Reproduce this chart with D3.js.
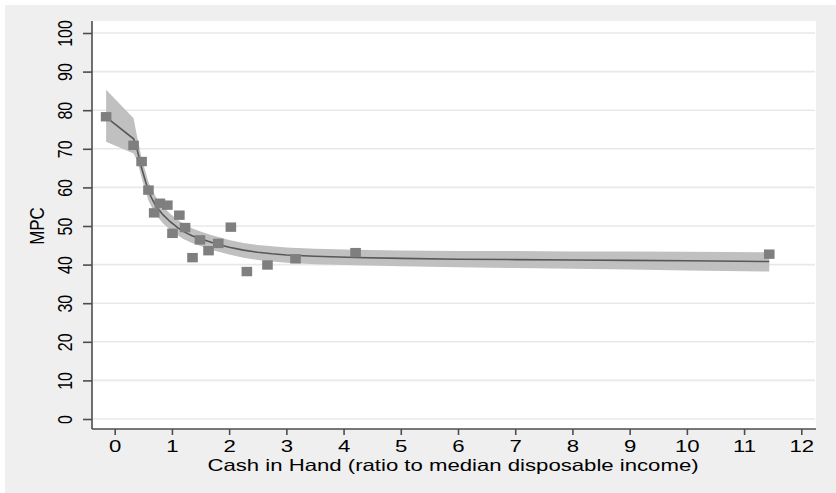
<!DOCTYPE html>
<html>
<head>
<meta charset="utf-8">
<script src="https://cdn.jsdelivr.net/npm/d3@7"></script>
<style>
  html, body { margin: 0; padding: 0; background: #ffffff; }
  svg { display: block; }
  text { font-family: "Liberation Sans", Arial, Helvetica, sans-serif; fill: #000; }
</style>
</head>
<body>
<svg id="chart" width="836" height="493"></svg>
<script>
// Observed household data: cash in hand vs. marginal propensity to consume
const cashRatio = [-0.15, 0.33, 0.47, 0.59, 0.69, 0.79, 0.92, 1.01, 1.13, 1.23,
                   1.36, 1.49, 1.64, 1.81, 2.03, 2.31, 2.67, 3.16, 4.21, 11.44];
const mpcValues = [78.3, 70.9, 66.7, 59.3, 53.4, 55.9, 55.4, 48.1, 52.8, 49.6,
                   41.8, 46.4, 43.6, 45.5, 49.7, 38.2, 39.9, 41.5, 43.1, 42.7];

// Fitted curve with its confidence band
const fitX  = [-0.15, 0.33, 0.38, 0.43, 0.47, 0.52, 0.59, 0.66, 0.73, 0.85, 0.97, 1.1, 1.2, 1.35, 1.5, 1.7,
               1.85, 2.0, 2.25, 2.5, 2.75, 3.0, 3.5, 4.2, 5, 6, 7, 8, 9, 10, 11.44];
const fitMid = [78.2, 72.6, 70.5, 67.5, 65.0, 62.5, 59.0, 56.8, 55.0, 52.8, 51.1, 49.6, 48.6, 47.5, 46.7, 45.7,
               45.1, 44.5, 43.75, 43.2, 42.8, 42.5, 42.15, 41.85, 41.6, 41.4, 41.3, 41.2, 41.1, 41.0, 40.8];
const fitLo = [71.8, 68.8, 67.3, 64.8, 62.5, 60.0, 56.6, 54.5, 52.7, 50.6, 49.0, 47.6, 46.6, 45.6, 44.8, 43.8,
               43.2, 42.6, 41.8, 41.2, 40.8, 40.5, 40.1, 39.85, 39.55, 39.3, 39.1, 38.9, 38.7, 38.5, 38.2];
const fitHi = [85.3, 77.9, 74.0, 70.5, 67.6, 65.0, 61.4, 59.1, 57.3, 55.0, 53.2, 51.6, 50.6, 49.4, 48.6, 47.6,
               47.0, 46.4, 45.6, 45.1, 44.75, 44.45, 44.1, 43.85, 43.65, 43.5, 43.5, 43.4, 43.4, 43.3, 43.2];

// Axis ticks and titles
const xTicks = [0, 1, 2, 3, 4, 5, 6, 7, 8, 9, 10, 11, 12];
const yTicks = [0, 10, 20, 30, 40, 50, 60, 70, 80, 90, 100];
const xTitle = "Cash in Hand (ratio to median disposable income)";
const yTitle = "MPC";

const svg = d3.select("#chart");
const W = 836, H = 493;

// Plot region
const plot = { left: 92, right: 816, top: 21, bottom: 429 };

const x = d3.scaleLinear().domain([0, 12]).range([114.7, 801.3]);
const y = d3.scaleLinear().domain([0, 100]).range([419, 33]);

// Background panels
svg.append("rect").attr("x", 5).attr("y", 5).attr("width", W - 5).attr("height", H - 5)
  .attr("fill", "#efefef");
svg.append("rect").attr("x", plot.left).attr("y", plot.top)
  .attr("width", plot.right - plot.left).attr("height", plot.bottom - plot.top)
  .attr("fill", "#ffffff");

// Horizontal grid lines
svg.append("g").selectAll("line").data(yTicks).join("line")
  .attr("x1", plot.left).attr("x2", plot.right - 1)
  .attr("y1", d => y(d)).attr("y2", d => y(d))
  .attr("stroke", "#e8e8e8").attr("stroke-width", 1.6);

// Confidence band
const fitData = fitX.map((v, i) => ({ x: v, mid: fitMid[i], lo: fitLo[i], hi: fitHi[i] }));
svg.append("path").datum(fitData)
  .attr("d", d3.area().x(d => x(d.x)).y0(d => y(d.lo)).y1(d => y(d.hi)))
  .attr("fill", "#c0c0c0");

// Fitted line
svg.append("path").datum(fitData)
  .attr("d", d3.line().x(d => x(d.x)).y(d => y(d.mid)))
  .attr("fill", "none").attr("stroke", "#575757").attr("stroke-width", 1.6);

// Observations as square markers
const mw = 10.6, mh = 9.4;
svg.append("g").selectAll("rect").data(cashRatio.map((v, i) => ({ x: v, y: mpcValues[i] }))).join("rect")
  .attr("x", d => x(d.x) - mw / 2).attr("y", d => y(d.y) - mh / 2)
  .attr("width", mw).attr("height", mh)
  .attr("fill", "#7f7f7f");

// Y axis
const yAxis = svg.append("g").attr("transform", `translate(${plot.left},0)`)
  .call(d3.axisLeft(y).tickValues(yTicks).tickSize(9).tickPadding(0).tickFormat(d3.format("d")));
yAxis.select(".domain").attr("d", `M0,${plot.top}V${plot.bottom}`);
yAxis.selectAll("path, line").attr("stroke", "#4d4d4d").attr("stroke-width", 1.6);
yAxis.selectAll(".tick text")
  .attr("x", null).attr("dy", null)
  .attr("text-anchor", "middle")
  .style("font-size", "16px")
  .attr("transform", "translate(-20.5,0) scale(1.22,1) rotate(-90)");

// X axis
const xAxis = svg.append("g").attr("transform", `translate(0,${plot.bottom})`)
  .call(d3.axisBottom(x).tickValues(xTicks).tickSize(6).tickPadding(0).tickFormat(d3.format("d")));
xAxis.select(".domain").attr("d", `M${plot.left},0H${plot.right}`);
xAxis.selectAll("path, line").attr("stroke", "#4d4d4d").attr("stroke-width", 1.6);
xAxis.selectAll(".tick text")
  .attr("y", null).attr("dy", null)
  .attr("text-anchor", "middle")
  .style("font-size", "16.3px")
  .attr("transform", "translate(0,23.3) scale(1.36,1)");

// Axis titles
svg.append("text")
  .attr("text-anchor", "middle")
  .style("font-size", "16.3px")
  .attr("transform", `translate(453,470.7) scale(1.36,1)`)
  .text(xTitle);

svg.append("text")
  .attr("text-anchor", "middle")
  .style("font-size", "17px")
  .attr("transform", `translate(43.5,226) scale(1.2,1) rotate(-90)`)
  .text(yTitle);
</script>
</body>
</html>
